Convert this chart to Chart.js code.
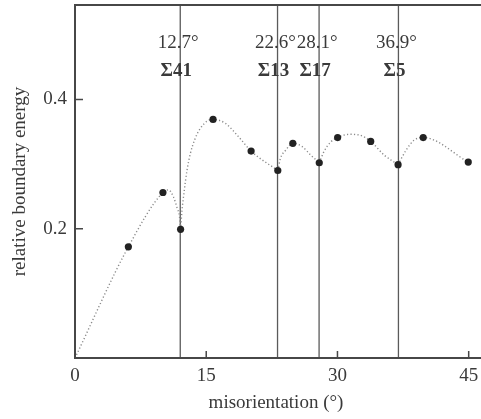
<!DOCTYPE html>
<html>
<head>
<meta charset="utf-8">
<script src="https://cdn.jsdelivr.net/npm/chart.js@4"></script>
<style>
  html, body { margin: 0; padding: 0; background: #fff; }
  #wrap { width: 481px; height: 419px; }
</style>
</head>
<body>
<div id="wrap"><canvas id="chart"></canvas></div>
<script>
// measured points
const angles   = [6.1, 10.05, 12.07, 15.78, 20.13, 23.18, 24.9, 27.92, 30.02, 33.8, 36.93, 39.8, 44.95];
const energies = [0.172, 0.256, 0.199, 0.369, 0.320, 0.290, 0.332, 0.302, 0.341, 0.335, 0.299, 0.341, 0.303];

// dotted guide curve, one branch between each pair of cusps
const fitA = [[0, 0], [6.1, 0.172], [10.05, 0.256], [10.69, 0.260], [11.26, 0.249], [11.65, 0.233], [11.95, 0.218], [12.07, 0.199]];
const fitB = [[12.07, 0.199], [12.23, 0.228], [12.49, 0.259], [12.8, 0.29], [13.18, 0.316], [13.75, 0.34], [14.32, 0.355],
              [15.16, 0.367], [15.78, 0.369], [17.19, 0.363], [18.71, 0.342], [20.13, 0.320], [23.18, 0.290]];
const fitC = [[23.18, 0.290], [23.49, 0.309], [24.06, 0.321], [24.9, 0.332], [25.97, 0.327], [26.93, 0.314], [27.92, 0.302]];
const fitD = [[27.92, 0.302], [28.45, 0.319], [29.22, 0.334], [30.02, 0.341], [31.32, 0.346], [32.46, 0.345], [33.8, 0.335],
              [35.33, 0.314], [36.93, 0.299]];
const fitE = [[36.93, 0.299], [37.82, 0.321], [38.77, 0.337], [39.8, 0.341], [44.95, 0.303]];

// special boundaries
const cuspAngles = [12.03, 23.15, 27.9, 36.97];
const angleLabels = ['12.7°', '22.6°', '28.1°', '36.9°'];
const sigmaLabels = ['Σ41', 'Σ13', 'Σ17', 'Σ5'];

const xTicks = [0, 15, 30, 45];
const yTicks = [0.2, 0.4];
const xMax = 45.95;
const yMax = 0.546;

const serif = "'Liberation Serif', 'Times New Roman', serif";
const ink = '#3a3a3a';

let datasets = [];

datasets.push({
    type: 'scatter',
    data: angles.map((a, i) => ({x: a, y: energies[i]})),
    pointRadius: 3.6,
    pointBackgroundColor: '#222',
    pointBorderWidth: 0,
    showLine: false
});

[fitA, fitB, fitC, fitD, fitE].forEach(seg => {
    datasets.push({
        type: 'line',
        data: seg.map(p => ({x: p[0], y: p[1]})),
        borderColor: '#8a8a8a',
        borderWidth: 1.4,
        borderDash: [1.2, 2.3],
        cubicInterpolationMode: 'monotone',
        pointRadius: 0
    });
});

cuspAngles.forEach(a => {
    datasets.push({
        type: 'line',
        data: [{x: a, y: 0}, {x: a, y: yMax}],
        borderColor: '#5a5a5a',
        borderWidth: 1.3,
        pointRadius: 0
    });
});

const frame = {
    id: 'frame',
    afterDatasetsDraw(chart) {
        const {ctx, chartArea: ca, scales: {x, y}} = chart;
        ctx.save();
        ctx.strokeStyle = '#474747';
        ctx.lineWidth = 2;
        ctx.beginPath();
        ctx.moveTo(chart.width, ca.top);
        ctx.lineTo(ca.left, ca.top);
        ctx.lineTo(ca.left, ca.bottom);
        ctx.lineTo(chart.width, ca.bottom);
        ctx.stroke();

        // inward ticks
        ctx.lineWidth = 1.5;
        ctx.beginPath();
        xTicks.forEach(t => {
            const px = x.getPixelForValue(t);
            ctx.moveTo(px, ca.bottom);
            ctx.lineTo(px, ca.bottom - 7);
        });
        yTicks.forEach(t => {
            const py = y.getPixelForValue(t);
            ctx.moveTo(ca.left, py);
            ctx.lineTo(ca.left + 8, py);
        });
        ctx.stroke();

        // boundary labels
        ctx.fillStyle = ink;
        ctx.textAlign = 'center';
        ctx.textBaseline = 'middle';
        cuspAngles.forEach((a, i) => {
            const px = x.getPixelForValue(a);
            ctx.font = '19px ' + serif;
            ctx.fillText(angleLabels[i], px - 2, ca.top + 38);
            ctx.font = 'bold 19px ' + serif;
            ctx.fillText(sigmaLabels[i], px - 4, ca.top + 66);
        });
        ctx.restore();
    }
};

new Chart(document.getElementById('chart'), {
    data: { datasets: datasets },
    options: {
        responsive: true,
        maintainAspectRatio: false,
        animation: false,
        layout: { padding: { top: 5, right: 0, left: 0, bottom: 0 } },
        plugins: { legend: { display: false }, tooltip: { enabled: false } },
        scales: {
            x: {
                type: 'linear',
                min: 0,
                max: xMax,
                afterBuildTicks: s => { s.ticks = xTicks.map(v => ({value: v})); },
                afterFit: s => { s.height = 61; s.paddingLeft = 0; s.paddingRight = 0; },
                grid: { display: false, drawTicks: false },
                border: { display: false },
                ticks: { color: ink, font: { family: serif, size: 19 }, padding: 7, maxRotation: 0 },
                title: {
                    display: true,
                    text: 'misorientation (°)',
                    color: ink,
                    font: { family: serif, size: 19 },
                    padding: { top: 0, bottom: 5 }
                }
            },
            y: {
                type: 'linear',
                min: 0,
                max: yMax,
                afterBuildTicks: s => { s.ticks = yTicks.map(v => ({value: v})); },
                afterFit: s => { s.width = 75; s.paddingTop = 0; s.paddingBottom = 0; },
                grid: { display: false, drawTicks: false },
                border: { display: false },
                ticks: { color: ink, font: { family: serif, size: 19 }, padding: 8 },
                title: {
                    display: true,
                    text: 'relative boundary energy',
                    color: ink,
                    font: { family: serif, size: 19 },
                    padding: { top: 9, bottom: 0 }
                }
            }
        }
    },
    plugins: [frame]
});
</script>
</body>
</html>
